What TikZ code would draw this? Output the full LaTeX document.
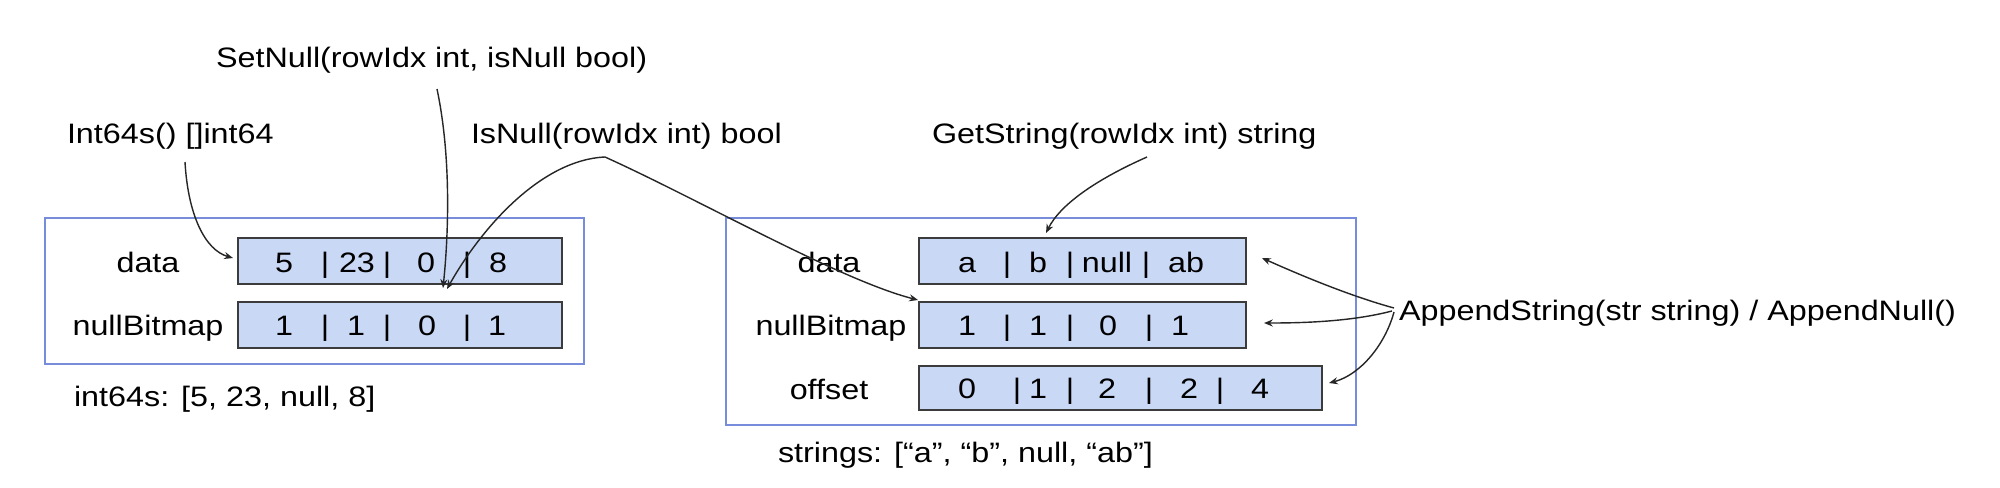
\documentclass[tikz,border=0pt]{standalone}
\usepackage{fontspec}
\setmainfont[FakeStretch=1.15]{Liberation Sans}
\usetikzlibrary{arrows.meta}
\definecolor{framec}{RGB}{120,140,220}
\definecolor{boxfill}{RGB}{201,216,245}
\definecolor{boxline}{RGB}{60,60,60}
\begin{document}
\begin{tikzpicture}[x=0.02cm,y=-0.02cm,
  txt/.style={inner sep=0pt, outer sep=0pt, font=\fontsize{16}{19}\selectfont},
  lbl/.style={txt, anchor=base west},
  clbl/.style={txt, anchor=base},
  tok/.style={txt, anchor=base},
  frame/.style={draw=framec, line width=0.8pt, inner sep=0pt},
  cellbox/.style={draw=boxline, fill=boxfill, line width=1pt, inner sep=0pt},
  arr/.style={draw=black!85, line width=0.8pt, -{Stealth[length=5pt,width=4pt]}}]
\useasboundingbox[fill=white] (0,0) rectangle (2000,487);

% frames
\node[frame, minimum width=10.78cm, minimum height=2.92cm] (lframe) at (314.5,291) {};
\node[frame, minimum width=12.6cm, minimum height=4.14cm] (rframe) at (1041,321.5) {};

% left boxes
\node[cellbox, minimum width=6.48cm, minimum height=0.92cm] (ldata) at (400,261) {};
\node[cellbox, minimum width=6.48cm, minimum height=0.92cm] (lnull) at (400,325) {};
% right boxes
\node[cellbox, minimum width=6.54cm, minimum height=0.92cm] (rdata) at (1082.5,261) {};
\node[cellbox, minimum width=6.54cm, minimum height=0.92cm] (rnull) at (1082.5,325) {};
\node[cellbox, minimum width=8.06cm, minimum height=0.88cm] (roff) at (1120.5,388) {};

% row labels
\node[clbl] (ldataL) at (148,272) {data};
\node[clbl] (lnullL) at (148,335) {nullBitmap};
\node[clbl] (rdataL) at (829,272) {data};
\node[clbl] (rnullL) at (831,335) {nullBitmap};
\node[clbl] (roffL) at (829,399) {offset};

% cell contents
\foreach \x/\t [count=\i] in {284/5,325/|,357/23,387/|,426/0,467/|,498/8}
  \node[tok, name=ld\i] at (\x,272) {\t};
\foreach \x/\t [count=\i] in {284/1,325/|,356/1,387/|,427/0,467/|,497/1}
  \node[tok, name=ln\i] at (\x,335) {\t};
\foreach \x/\t [count=\i] in {967/a,1007/|,1038/b,1070/|,1107/null,1146/|,1186/ab}
  \node[tok, name=rd\i] at (\x,272) {\t};
\foreach \x/\t [count=\i] in {967/1,1007/|,1038/1,1070/|,1108/0,1149/|,1180/1}
  \node[tok, name=rn\i] at (\x,335) {\t};
\foreach \x/\t [count=\i] in {967/0,1017/|,1038/1,1070/|,1107/2,1149/|,1189/2,1220/|,1260/4}
  \node[tok, name=ro\i] at (\x,398) {\t};

% captions and method labels
\node[lbl] (cap1) at (74,406) {int64s: [5, 23, null, 8]};
\node[lbl] (cap2) at (778,462) {strings: [“a”, “b”, null, “ab”]};
\node[lbl] (setnull) at (216,67) {SetNull(rowIdx int, isNull bool)};
\node[lbl] (int64s) at (67,143) {Int64s() []int64};
\node[lbl] (isnull) at (471,143) {IsNull(rowIdx int) bool};
\node[lbl] (getstr) at (932,143) {GetString(rowIdx int) string};
\node[lbl] (append) at (1399,320) {AppendString(str string) / AppendNull()};

% connector end points
\coordinate (a1s) at (185,162);   \coordinate (a1e) at (233,258);
\coordinate (a2s) at (437,89);    \coordinate (a2e) at (443,288);
\coordinate (a3s) at (605,157);   \coordinate (a3e) at (447,289);
\coordinate (a4e) at (918,300);
\coordinate (a5s) at (1147,157);  \coordinate (a5e) at (1046,233);
\coordinate (a6s) at (1394,308);  \coordinate (a6e) at (1262,258);
\coordinate (a7s) at (1392,311);  \coordinate (a7e) at (1264,323);
\coordinate (a8s) at (1394,312);  \coordinate (a8e) at (1329,383);

% connectors
\draw[arr] (a1s) .. controls (188,215) and (205,250) .. (a1e);
\draw[arr] (a2s) .. controls (452,160) and (448,240) .. (a2e);
\draw[arr] (a3s) .. controls (540,160) and (480,230) .. (a3e);
\draw[arr] (a3s) .. controls (700,200) and (840,280) .. (a4e);
\draw[arr] (a5s) .. controls (1095,180) and (1060,205) .. (a5e);
\draw[arr] (a6s) .. controls (1350,296) and (1300,275) .. (a6e);
\draw[arr] (a7s) .. controls (1350,322) and (1300,323) .. (a7e);
\draw[arr] (a8s) .. controls (1385,345) and (1360,375) .. (a8e);
\end{tikzpicture}
\end{document}
